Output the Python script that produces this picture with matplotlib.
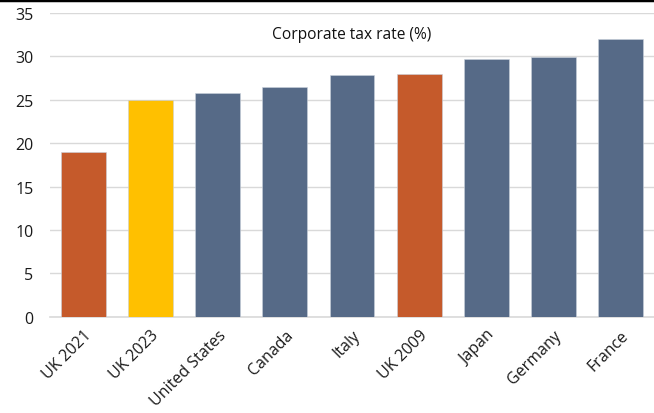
import matplotlib
matplotlib.use("Agg")
import matplotlib.pyplot as plt
from matplotlib.lines import Line2D

# data
countries = ["UK 2021", "UK 2023", "United States", "Canada", "Italy",
             "UK 2009", "Japan", "Germany", "France"]
rates = [19.0, 25.0, 25.8, 26.5, 27.8, 28.0, 29.7, 29.9, 32.0]
bar_colors = ["#C55A2B", "#FFC000", "#566A87", "#566A87", "#566A87",
              "#C55A2B", "#566A87", "#566A87", "#566A87"]
yticks = [0, 5, 10, 15, 20, 25, 30, 35]

plt.rcParams['font.family'] = ['Open Sans', 'DejaVu Sans']

fig = plt.figure(figsize=(6.54, 4.14), dpi=100)
ax = fig.add_axes([0.0765, 0.232, 0.9235, 0.735])

x = list(range(len(countries)))
ax.bar(x, rates, width=0.67, color=bar_colors, edgecolor="#C9D1DC",
       linewidth=0.4, zorder=3)

ax.set_xlim(-0.5, len(countries) - 0.5)
ax.set_ylim(0, 35)
ax.set_yticks(yticks)
ax.yaxis.grid(True, color="#D9D9D9", linewidth=1.0, zorder=0)
ax.set_axisbelow(True)

ax.set_xticks(x)
ax.set_xticklabels(countries, rotation=45, ha="right", rotation_mode="anchor",
                   fontsize=11.5, color="#1a1a1a")
ax.tick_params(axis="x", length=0, pad=7)
ax.tick_params(axis="y", length=0, pad=12, labelsize=11.5, labelcolor="#1a1a1a")

for s in ["top", "right", "left"]:
    ax.spines[s].set_visible(False)
ax.spines["bottom"].set_color("#D9D9D9")
ax.spines["bottom"].set_linewidth(1.2)

ax.text(0.5, 0.93, "Corporate tax rate (%)", transform=ax.transAxes,
        ha="center", va="center", fontsize=11.2, color="#111111")

# black rule across the top
fig.add_artist(Line2D([0, 1], [0.997, 0.997], transform=fig.transFigure,
                      color="black", linewidth=2.5))

fig.savefig("out.png", dpi=100)
